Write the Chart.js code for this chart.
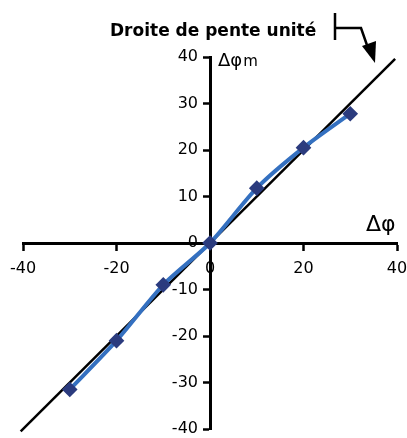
<!DOCTYPE html>
<html>
<head>
<meta charset="utf-8">
<script src="https://cdn.jsdelivr.net/npm/chart.js@4/dist/chart.umd.min.js"></script>
<style>
  body { margin: 0; background: #fff; }
  #wrap { width: 407px; height: 438px; }
</style>
</head>
<body>
<div id="wrap"><canvas id="phaseChart"></canvas></div>
<script>
// données
const deltaPhi = [-30, -20, -10, 0, 10, 20, 30];          // Δφ imposé
const deltaPhiMes = [-31.5, -21, -9, 0, 11.8, 20.5, 27.8]; // Δφm mesuré
const droiteX = [-40.5, 39.6];                              // droite de pente unité
const xTicks = [-40, -20, 0, 20, 40];
const yTicks = [-40, -30, -20, -10, 0, 10, 20, 30, 40];

const mesures = deltaPhi.map((x, i) => ({ x: x, y: deltaPhiMes[i] }));
const droite = droiteX.map(x => ({ x: x, y: x }));

// pas de marge automatique autour des axes centrés
const noPadding = axis => {
    axis.paddingLeft = axis.paddingRight = axis.paddingTop = axis.paddingBottom = 0;
};

// textes, étiquettes de l'axe vertical et flèche d'annotation
const annotations = {
    id: 'annotations',
    afterDraw(chart) {
        const ctx = chart.ctx;
        const sx = chart.scales.x;
        const sy = chart.scales.y;
        ctx.save();
        ctx.fillStyle = '#000';

        // étiquettes de l'axe vertical, à gauche de l'axe
        ctx.font = '16px "DejaVu Sans"';
        ctx.textAlign = 'right';
        ctx.textBaseline = 'middle';
        const x0 = sx.getPixelForValue(0);
        sy.ticks.forEach(t => {
            ctx.fillText(String(t.value), x0 - 12, sy.getPixelForValue(t.value));
        });

        ctx.textBaseline = 'alphabetic';
        ctx.textAlign = 'left';
        ctx.font = 'bold 17px "DejaVu Sans"';
        ctx.fillText('Droite de pente unité', 110, 36);

        // Δφm (axe vertical)
        ctx.font = '18px "DejaVu Sans"';
        ctx.fillText('Δφ', 218, 66);
        const w = ctx.measureText('Δφ').width;
        ctx.font = '15px "DejaVu Sans"';
        ctx.fillText('m', 218 + w + 1, 66);

        // Δφ (axe horizontal)
        ctx.font = '22px "DejaVu Sans"';
        ctx.fillText('Δφ', 366, 231);

        // flèche
        ctx.strokeStyle = '#000';
        ctx.lineWidth = 2.5;
        ctx.beginPath();
        ctx.moveTo(335, 13);
        ctx.lineTo(335, 40);
        ctx.moveTo(335, 28);
        ctx.lineTo(361, 28);
        ctx.lineTo(368, 48);
        ctx.stroke();
        ctx.beginPath();
        ctx.moveTo(362, 46);
        ctx.lineTo(376, 41);
        ctx.lineTo(375, 63);
        ctx.closePath();
        ctx.fill();
        ctx.restore();
    }
};

const ctx = document.getElementById('phaseChart').getContext('2d');

new Chart(ctx, {
    type: 'scatter',
    data: {
        datasets: [{
            label: 'Droite de pente unité',
            data: droite,
            showLine: true,
            borderColor: '#000',
            borderWidth: 2.5,
            pointRadius: 0,
            clip: false,
            order: 2
        }, {
            label: 'Δφm',
            data: mesures,
            showLine: true,
            borderColor: '#3470c0',
            borderWidth: 4,
            tension: 0.25,
            pointStyle: 'rectRot',
            pointRadius: 5,
            pointBackgroundColor: '#2b3b7e',
            pointBorderColor: '#2b3b7e',
            order: 1
        }]
    },
    options: {
        responsive: true,
        maintainAspectRatio: false,
        animation: false,
        layout: {
            padding: { left: 23, right: 10, top: 57, bottom: 7 }
        },
        plugins: {
            legend: { display: false },
            tooltip: { enabled: false }
        },
        scales: {
            x: {
                type: 'linear',
                position: { y: 0 },
                min: -40,
                max: 40,
                afterBuildTicks: axis => { axis.ticks = xTicks.map(v => ({ value: v })); },
                afterFit: noPadding,
                ticks: {
                    color: '#000',
                    font: { family: '"DejaVu Sans"', size: 16 },
                    padding: 10
                },
                grid: {
                    drawOnChartArea: false,
                    drawTicks: true,
                    tickLength: 6,
                    tickWidth: 2.5,
                    tickColor: '#000'
                },
                border: { color: '#000', width: 3 }
            },
            y: {
                type: 'linear',
                position: { x: 0 },
                min: -40,
                max: 40,
                afterBuildTicks: axis => { axis.ticks = yTicks.map(v => ({ value: v })); },
                afterFit: noPadding,
                ticks: { display: false },
                grid: {
                    drawOnChartArea: false,
                    drawTicks: true,
                    tickLength: 6,
                    tickWidth: 2.5,
                    tickColor: '#000'
                },
                border: { color: '#000', width: 3 }
            }
        }
    },
    plugins: [annotations]
});
</script>
</body>
</html>
